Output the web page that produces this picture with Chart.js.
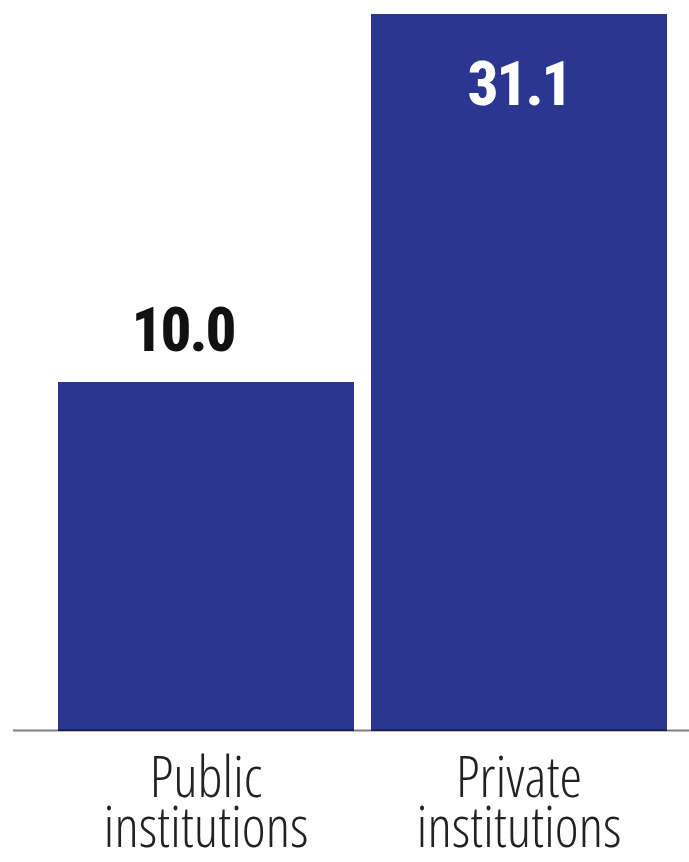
<!DOCTYPE html>
<html>
<head>
<meta charset="utf-8">
<script src="https://cdn.jsdelivr.net/npm/chart.js@4/dist/chart.umd.min.js"></script>
<style>
  html, body { margin: 0; padding: 0; background: #ffffff; }
  #wrap { width: 689px; height: 862px; }
</style>
</head>
<body>
<div id="wrap"><canvas id="chart" width="689" height="862"></canvas></div>
<script>
// Share of students (per cent), by type of institution
const categories = [['Public', 'institutions'], ['Private', 'institutions']];
const shares = [10.0, 31.1];
const axisFloor = -10;
const axisCeil = 31.1;

const BAR_BLUE = '#2b3691';
const LABEL_FAMILY = '"Open Sans", "DejaVu Sans Condensed", sans-serif';
const VALUE_FAMILY = 'Roboto, "DejaVu Sans Condensed", sans-serif';

// Grey baseline running the full width under the bars
const baselinePlugin = {
  id: 'baseline',
  afterDatasetsDraw(chart) {
    const { ctx, scales } = chart;
    const y = scales.y.getPixelForValue(axisFloor);
    ctx.save();
    ctx.strokeStyle = 'rgba(0,0,0,0.5)';
    ctx.lineWidth = 2;
    ctx.beginPath();
    ctx.moveTo(13, y - 0.5);
    ctx.lineTo(chart.width, y - 0.5);
    ctx.stroke();
    ctx.restore();
  }
};

// Value labels: above the bar, or inside it in white when there is no room above
const valueLabelPlugin = {
  id: 'valueLabels',
  afterDatasetsDraw(chart) {
    const { ctx, chartArea } = chart;
    const meta = chart.getDatasetMeta(0);
    const values = chart.data.datasets[0].data;
    ctx.save();
    ctx.font = '800 condensed 61px ' + VALUE_FAMILY;
    if ('letterSpacing' in ctx) ctx.letterSpacing = '-2px';
    ctx.textAlign = 'center';
    ctx.textBaseline = 'alphabetic';
    meta.data.forEach((bar, i) => {
      const text = values[i].toFixed(1);
      const textH = 44;
      if (bar.y - 31 - textH < chartArea.top) {
        ctx.fillStyle = '#ffffff';
        ctx.fillText(text, bar.x, bar.y + 91);
      } else {
        ctx.fillStyle = '#111111';
        ctx.fillText(text, bar.x - 23, bar.y - 31);
      }
    });
    ctx.restore();
  }
};

new Chart(document.getElementById('chart'), {
  type: 'bar',
  data: {
    labels: categories,
    datasets: [{
      data: shares,
      base: axisFloor,
      backgroundColor: BAR_BLUE,
      borderWidth: 0,
      barPercentage: 0.9457,
      categoryPercentage: 1.0
    }]
  },
  options: {
    responsive: false,
    animation: false,
    devicePixelRatio: 1,
    layout: { padding: { left: 49.5, right: 13.5, top: 14, bottom: 0 } },
    plugins: {
      legend: { display: false },
      tooltip: { enabled: false },
      title: { display: false }
    },
    scales: {
      x: {
        grid: { display: false },
        border: { display: false },
        ticks: {
          color: '#222222',
          autoSkip: false,
          maxRotation: 0,
          padding: 17,
          font: { family: LABEL_FAMILY, size: 57, weight: '300 condensed', lineHeight: 0.877 }
        },
        afterFit(scale) { scale.height = 131; }
      },
      y: {
        display: false,
        min: axisFloor,
        max: axisCeil
      }
    }
  },
  plugins: [baselinePlugin, valueLabelPlugin]
});
</script>
</body>
</html>
